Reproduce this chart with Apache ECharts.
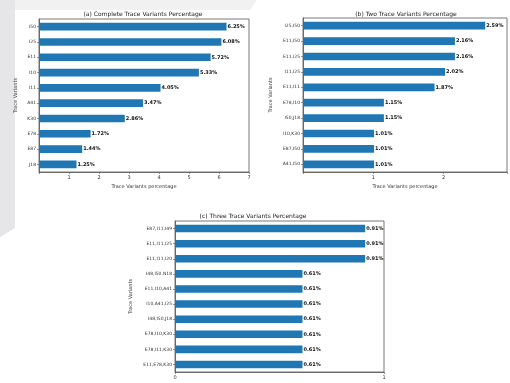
<!DOCTYPE html>
<html><head><meta charset="utf-8">
<script src="https://cdn.jsdelivr.net/npm/echarts@6/dist/echarts.min.js"></script>
<style>html,body{margin:0;padding:0;background:#fff}#c{width:510px;height:383px}</style>
</head><body><div id="c"></div>
<script>
const titleA = '(a) Complete Trace Variants Percentage';
const titleB = '(b) Two Trace Variants Percentage';
const titleC = '(c) Three Trace Variants Percentage';
const catsA = ['I50','I25','E11','I10','I11','A41','K30','E78','E87','J18'];
const valsA = [6.25,6.08,5.72,5.33,4.05,3.47,2.86,1.72,1.44,1.25];
const catsB = ['I25,I50','E11,I50','E11,I25','I11,I25','E11,I11','E78,I10','I50,J18','I10,K30','E87,I50','A41,I50'];
const valsB = [2.59,2.16,2.16,2.02,1.87,1.15,1.15,1.01,1.01,1.01];
const catsC = ['E87,I11,I49','E11,I11,I25','E11,I11,I20','I48,I50,N18','E11,I10,A41','I10,A41,I25','I48,I50,J18','E78,I10,K30','E78,I11,K30','E11,E78,K30'];
const valsC = [0.91,0.91,0.91,0.61,0.61,0.61,0.61,0.61,0.61,0.61];
const yName = 'Trace Variants';
const xName = 'Trace Variants percentage';

const FONT = 'DejaVu Sans';
const grids = [
  {left:39, top:19, width:210, height:153},
  {left:303, top:18, width:204, height:154},
  {left:175, top:221, width:209, height:151}
];
const maxes = [7, 2.9, 1];
const cats = [catsA, catsB, catsC];
const vals = [valsA, valsB, valsC];
const yGaps = [21, 30, 42];
const hideZero = [true, true, false];

const option = {
  animation:false,
  backgroundColor:'#ffffff',
  graphic:[
    {type:'polygon', shape:{points:[[15,0],[257,0],[250,10],[15,10]]}, style:{fill:'#f1f1f2'}, z:-10},
    {type:'polygon', shape:{points:[[0,0],[15,0],[15,228],[0,237]]}, style:{fill:'#e6e6e9'}, z:-10},
    {type:'text', x:143, y:14, style:{text:titleA, font:'6px '+FONT, fill:'#222', textAlign:'center', textVerticalAlign:'middle'}},
    {type:'text', x:406, y:14, style:{text:titleB, font:'6px '+FONT, fill:'#222', textAlign:'center', textVerticalAlign:'middle'}},
    {type:'text', x:253, y:216, style:{text:titleC, font:'6px '+FONT, fill:'#222', textAlign:'center', textVerticalAlign:'middle'}}
  ],
  grid: grids.map(g=>Object.assign({show:true, borderColor:'#555', borderWidth:0.8, backgroundColor:'transparent'}, g)),
  xAxis: [0,1,2].map(i=>({
    type:'value', gridIndex:i, min:0, max:maxes[i], interval:1,
    name: i<2 ? xName : '', nameLocation:'middle', nameGap:12,
    nameTextStyle:{fontSize:5, fontFamily:FONT, color:'#333'},
    splitLine:{show:false},
    axisLine:{show:true, lineStyle:{color:'#555', width:0.8}},
    axisTick:{show:true, length:2, lineStyle:{color:'#555', width:0.6}},
    axisLabel:{fontSize:5, fontFamily:FONT, color:'#333', margin:3,
      formatter:(v)=> (Math.abs(v-Math.round(v))>1e-6 ? '' : (hideZero[i] && v===0 ? '' : String(v)))}
  })),
  yAxis: [0,1,2].map(i=>({
    type:'category', gridIndex:i, data:cats[i], inverse:true,
    name:yName, nameLocation:'middle', nameRotate:90, nameGap:yGaps[i],
    nameTextStyle:{fontSize:5, fontFamily:FONT, color:'#333'},
    axisLine:{show:true, lineStyle:{color:'#555', width:0.8}},
    axisTick:{show:true, alignWithLabel:true, length:2, lineStyle:{color:'#555', width:0.6}},
    axisLabel:{fontSize:4.5, fontFamily:FONT, color:'#333', margin:3}
  })),
  series: [0,1,2].map(i=>({
    type:'bar', xAxisIndex:i, yAxisIndex:i, data:vals[i],
    barCategoryGap:'50%',
    itemStyle:{color:'#1f77b4'},
    label:{show:true, position:'right', distance:1, fontSize:5, fontWeight:'bold', fontFamily:FONT, color:'#111',
      formatter:(p)=>p.value.toFixed(2)+'%'}
  }))
};
const chart = echarts.init(document.getElementById('c'), null, {renderer:'canvas'});
chart.setOption(option);
</script></body></html>
